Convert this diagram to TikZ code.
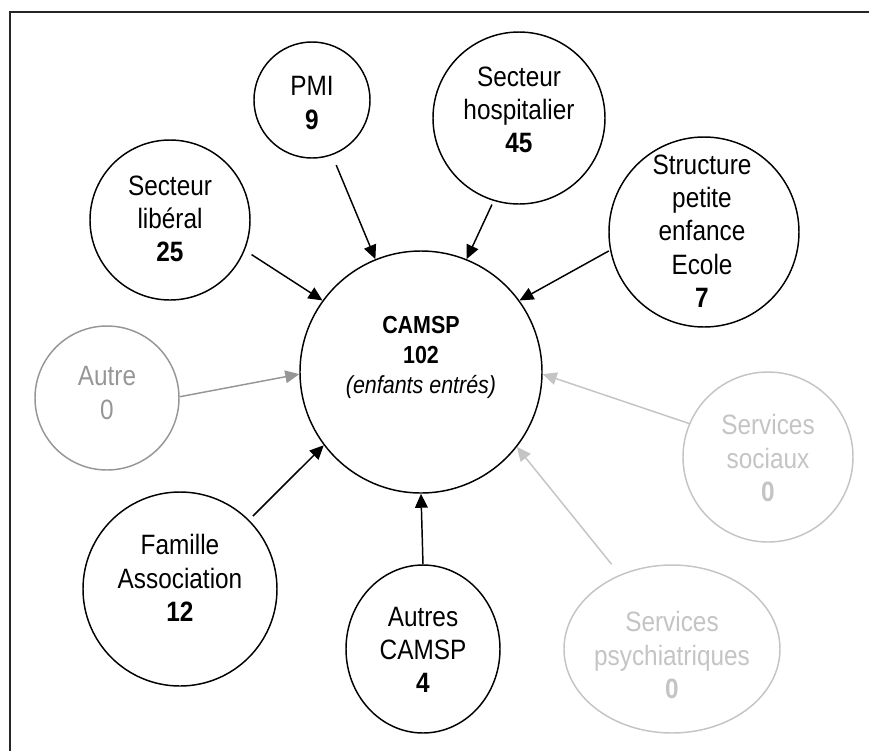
\documentclass[tikz,border=0pt]{standalone}
\usepackage{fontspec}
\setmainfont{Liberation Sans}[FakeStretch=0.87]
\usetikzlibrary{arrows.meta,shapes.geometric}
\definecolor{autregray}{RGB}{150,150,150}
\definecolor{palegray}{RGB}{196,196,196}
\begin{document}
\begin{tikzpicture}[x=0.75pt,y=-0.75pt,
  bubble/.style={circle,draw,line width=1.1pt,inner sep=0pt,minimum size=#1*1.5pt},
  oval/.style 2 args={ellipse,draw,line width=1.1pt,inner sep=0pt,minimum width=#1*1.5pt,minimum height=#2*1.5pt},
  txt/.style={align=center,inner sep=0pt,font=\fontsize{21}{25}\selectfont},
  bigtxt/.style={align=center,inner sep=0pt,font=\fontsize{18.5}{22.5}\selectfont},
  link/.style={line width=1.1pt,-{Triangle[length=10.5pt,width=9.5pt]}},
]
\useasboundingbox (0,0) rectangle (869,751);
\draw[line width=1.6pt,black!85] (869,12) -- (10,12) -- (10,751);

% central node
\node[bubble=121] (camsp) at (421,372) {};
\node[bigtxt] (camspT) at (421,357) {\textbf{CAMSP}\\\textbf{102}\\\textit{(enfants entrés)}};

% black nodes
\node[bubble=80] (lib) at (170,220) {};
\node[txt] (libT) at (170,219) {Secteur\\libéral\\\textbf{25}};
\node[bubble=58] (pmi) at (312,100) {};
\node[txt] (pmiT) at (312,103) {PMI\\\textbf{9}};
\node[bubble=86] (hosp) at (519,118) {};
\node[txt] (hospT) at (519,110) {Secteur\\hospitalier\\\textbf{45}};
\node[bubble=95] (struct) at (704,232) {};
\node[txt] (structT) at (702,231) {Structure\\petite\\enfance\\Ecole\\\textbf{7}};
\node[bubble=97] (fam) at (180,589) {};
\node[txt] (famT) at (180,578) {Famille\\Association\\\textbf{12}};
\node[oval={77}{84}] (autres) at (423,649) {};
\node[txt] (autresT) at (423,650) {Autres\\CAMSP\\\textbf{4}};

% grey nodes
\node[bubble=72,draw=autregray] (autre) at (107,398) {};
\node[txt,text=autregray] (autreT) at (107,393) {Autre\\0};
\node[bubble=85,draw=palegray] (soc) at (768,457) {};
\node[txt,text=palegray] (socT) at (768,458) {Services\\sociaux\\\textbf{0}};
\node[oval={108}{84},draw=palegray] (psy) at (672,649) {};
\node[txt,text=palegray] (psyT) at (672,655) {Services\\psychiatriques\\\textbf{0}};

% connectors
\draw[link,shorten <=6pt] (lib.-22) -- (camsp.144.5);
\draw[link,shorten <=8pt] (pmi.-70) -- (camsp.112);
\draw[link,shorten <=3pt] (hosp.-107) -- (camsp.68.6);
\draw[link,shorten <=1pt] (struct.191) -- (camsp.36.6);
\draw[link,shorten <=4pt] (fam.45) -- (camsp.217.4);
\draw[link] (autres.north) -- (camsp.south);
\draw[link,autregray] (autre.1.5) -- (camsp.181);
\draw[link,palegray] (soc.157) -- (camsp.-1.4);
\draw[link,palegray,shorten <=10pt] (psy.125) -- (camsp.-38);
\end{tikzpicture}
\end{document}
